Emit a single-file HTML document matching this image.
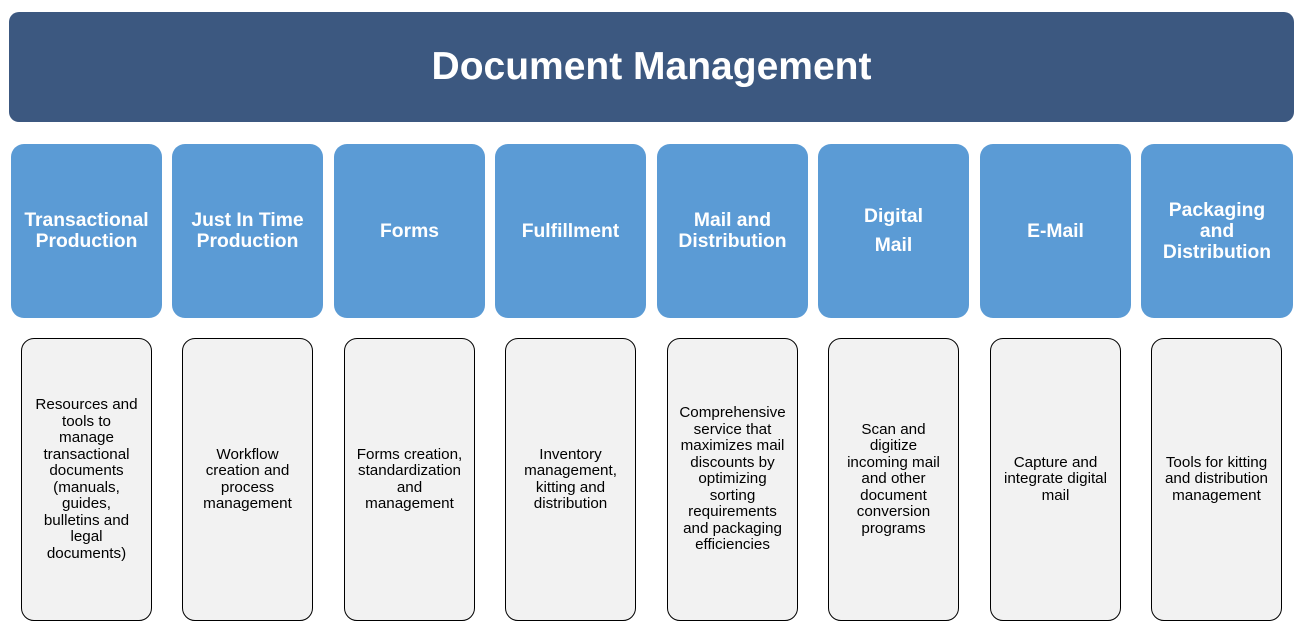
<!DOCTYPE html>
<html><head><style>
body{margin:0;width:1303px;height:631px;background:#fff;font-family:"Liberation Sans",Arial,sans-serif;position:relative;overflow:hidden}
.h{position:absolute;left:9px;top:12px;width:1285px;height:110px;background:#3C5880;border-radius:10px;color:#fff;font-weight:bold;font-size:39px;display:flex;align-items:center;justify-content:center}
.b{position:absolute;top:144px;width:151px;height:174px;background:#5B9BD5;border-radius:13px;color:#fff;font-weight:bold;font-size:19.3px;line-height:21px;display:flex;align-items:center;justify-content:center;text-align:center}
.g{position:absolute;top:338px;width:129px;height:281px;background:#F2F2F2;border:1px solid #000;border-radius:13px;font-size:15.2px;line-height:16.5px;display:flex;align-items:center;justify-content:center;text-align:center;color:#000}
</style></head><body>
<div class="h">Document Management</div>
<div class="b" style="left:11px">Transactional<br>Production</div>
<div class="b" style="left:172px">Just In Time<br>Production</div>
<div class="b" style="left:334px">Forms</div>
<div class="b" style="left:495px">Fulfillment</div>
<div class="b" style="left:657px">Mail and<br>Distribution</div>
<div class="b" style="left:818px;line-height:29px">Digital<br>Mail</div>
<div class="b" style="left:980px">E-Mail</div>
<div class="b" style="left:1141px;width:152px">Packaging<br>and<br>Distribution</div>
<div class="g" style="left:21px">Resources and<br>tools to<br>manage<br>transactional<br>documents<br>(manuals,<br>guides,<br>bulletins and<br>legal<br>documents)</div>
<div class="g" style="left:182px">Workflow<br>creation and<br>process<br>management</div>
<div class="g" style="left:344px">Forms creation,<br>standardization<br>and<br>management</div>
<div class="g" style="left:505px">Inventory<br>management,<br>kitting and<br>distribution</div>
<div class="g" style="left:667px">Comprehensive<br>service that<br>maximizes mail<br>discounts by<br>optimizing<br>sorting<br>requirements<br>and packaging<br>efficiencies</div>
<div class="g" style="left:828px">Scan and<br>digitize<br>incoming mail<br>and other<br>document<br>conversion<br>programs</div>
<div class="g" style="left:990px">Capture and<br>integrate digital<br>mail</div>
<div class="g" style="left:1151px">Tools for kitting<br>and distribution<br>management</div>
</body></html>
